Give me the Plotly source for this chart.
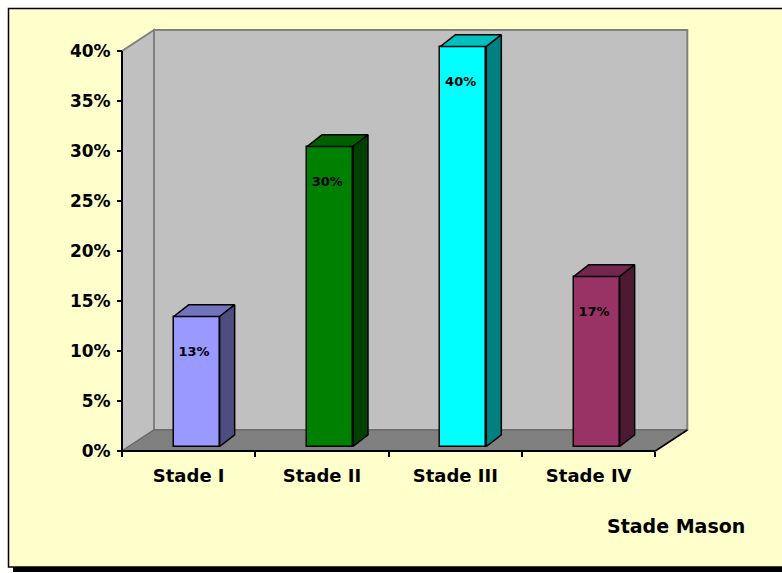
import plotly.graph_objects as go

# ---- data -------------------------------------------------------------
stages = ["Stade I", "Stade II", "Stade III", "Stade IV"]
shares = [13, 30, 40, 17]                      # % of patients per Mason stage
front_colors = ["#9999FF", "#008000", "#00FFFF", "#993366"]
top_colors = ["#7373BF", "#006000", "#00BFBF", "#732650"]
side_colors = ["#4D4D80", "#004000", "#008080", "#4D1A33"]
y_tick_vals = [0, 5, 10, 15, 20, 25, 30, 35, 40]
y_tick_text = [f"{v}%" for v in y_tick_vals]
x_axis_title = "Stade Mason"

# ---- page geometry (pixels) -------------------------------------------
W, H = 782, 573
PL, PR, PT, PB = 116, 692, 26, 456        # plotting area
X0_PX, Y0_PX = 122, 451                    # front-left corner of the floor
CAT_PX = 133.33                            # pixels per category
PCT_PX = 10.0                              # pixels per percent

xmin = -0.5 - (X0_PX - PL) / CAT_PX
xmax = -0.5 + (PR - X0_PX) / CAT_PX
ymin = -(PB - Y0_PX) / PCT_PX
ymax = (Y0_PX - PT) / PCT_PX

Y_TOP = 40                                 # top of the value axis
X_LEFT, X_RIGHT = -0.5, len(stages) - 0.5
DX, DY = 32 / CAT_PX, 21 / PCT_PX          # depth of the chart box
BAR_W, BAR_SHIFT, BAR_BASE = 0.345, 0.06, 0.45
BDX, BDY = 15 / CAT_PX, 1.17               # depth of each column


def paper_x(px):
    return (px - PL) / (PR - PL)


def paper_y(py):
    return (PB - py) / (PB - PT)


fig = go.Figure()

# front faces of the columns
xs = [i + BAR_SHIFT for i in range(len(stages))]
fig.add_trace(go.Bar(
    x=xs, y=shares, base=BAR_BASE, width=BAR_W,
    marker=dict(color=front_colors, line=dict(color="black", width=1.5)),
    hoverinfo="skip", showlegend=False,
))

# top and side faces
for xc, v, tc, sc in zip(xs, shares, top_colors, side_colors):
    xl, xr = xc - BAR_W / 2, xc + BAR_W / 2
    top = BAR_BASE + v
    fig.add_trace(go.Scatter(
        x=[xl, xr, xr + BDX, xl + BDX, xl],
        y=[top, top, top + BDY, top + BDY, top],
        mode="lines", fill="toself", fillcolor=tc,
        line=dict(color="black", width=1.5),
        hoverinfo="skip", showlegend=False,
    ))
    fig.add_trace(go.Scatter(
        x=[xr, xr, xr + BDX, xr + BDX, xr],
        y=[BAR_BASE, top, top + BDY, BAR_BASE + BDY, BAR_BASE],
        mode="lines", fill="toself", fillcolor=sc,
        line=dict(color="black", width=1.5),
        hoverinfo="skip", showlegend=False,
    ))

# value labels inside the columns
fig.add_trace(go.Scatter(
    x=[xc - 0.02 for xc in xs],
    y=[BAR_BASE + v - 3.6 for v in shares],
    text=[f"{v}%" for v in shares],
    mode="text",
    textfont=dict(family="DejaVu Sans", size=13, color="black", weight="bold"),
    hoverinfo="skip", showlegend=False, cliponaxis=False,
))

# front edges of the box (axis lines)
edge = dict(mode="lines", hoverinfo="skip", showlegend=False, cliponaxis=False)
fig.add_trace(go.Scatter(x=[X_LEFT, X_LEFT], y=[0, Y_TOP],
                         line=dict(color="black", width=2), **edge))
fig.add_trace(go.Scatter(x=[X_LEFT, X_RIGHT], y=[0, 0],
                         line=dict(color="black", width=2), **edge))
fig.add_trace(go.Scatter(x=[X_RIGHT, X_RIGHT + DX], y=[0, DY],
                         line=dict(color="black", width=1.5), **edge))

shapes = [
    # chart area background with its frame and shadow
    dict(type="rect", xref="paper", yref="paper", layer="below",
         x0=paper_x(8.5), x1=paper_x(800), y0=paper_y(8.5), y1=paper_y(567),
         fillcolor="#FFFFCC", line=dict(color="black", width=1.5)),
    dict(type="rect", xref="paper", yref="paper", layer="below",
         x0=paper_x(13), x1=paper_x(800), y0=paper_y(567), y1=paper_y(572),
         fillcolor="black", line=dict(width=0)),
    # back wall
    dict(type="rect", xref="x", yref="y", layer="below",
         x0=X_LEFT + DX, x1=X_RIGHT + DX, y0=DY, y1=Y_TOP + DY,
         fillcolor="#C0C0C0", line=dict(color="#808080", width=2)),
    # side wall
    dict(type="path", xref="x", yref="y", layer="below",
         path=(f"M {X_LEFT},0 L {X_LEFT},{Y_TOP} L {X_LEFT + DX},{Y_TOP + DY} "
               f"L {X_LEFT + DX},{DY} Z"),
         fillcolor="#C0C0C0", line=dict(color="#808080", width=2)),
    # floor
    dict(type="path", xref="x", yref="y", layer="below",
         path=(f"M {X_LEFT},0 L {X_RIGHT},0 L {X_RIGHT + DX},{DY} "
               f"L {X_LEFT + DX},{DY} Z"),
         fillcolor="#808080", line=dict(color="#606060", width=1)),
]

y_tick_font = dict(family="DejaVu Sans", size=17, color="black", weight="bold")
x_tick_font = dict(family="DejaVu Sans", size=18, color="black", weight="bold")

fig.update_layout(
    width=W, height=H,
    margin=dict(l=PL, r=W - PR, t=PT, b=H - PB, pad=0),
    paper_bgcolor="white", plot_bgcolor="rgba(0,0,0,0)",
    shapes=shapes,
    bargap=0,
    xaxis=dict(
        range=[xmin, xmax], anchor="free", position=paper_y(Y0_PX),
        tickvals=list(range(len(stages))), ticktext=stages,
        ticks="", showline=False, showgrid=False, zeroline=False,
        tickfont=x_tick_font, ticklabelstandoff=12,
        minor=dict(tickvals=[i - 0.5 for i in range(len(stages) + 1)],
                   ticks="outside", ticklen=5, tickwidth=2, tickcolor="black",
                   showgrid=False),
        fixedrange=True,
    ),
    yaxis=dict(
        range=[ymin, ymax], anchor="free", position=paper_x(X0_PX),
        tickvals=y_tick_vals, ticktext=y_tick_text,
        ticks="outside", ticklen=5, tickwidth=2, tickcolor="black",
        showline=False, showgrid=False, zeroline=False,
        tickfont=y_tick_font, ticklabelstandoff=3,
        fixedrange=True,
    ),
    annotations=[dict(
        text=x_axis_title, xref="paper", yref="paper",
        x=paper_x(676), y=paper_y(526), xanchor="center", yanchor="middle",
        showarrow=False,
        font=dict(family="DejaVu Sans", size=19, color="black", weight="bold"),
    )],
)

fig.write_html("out.html")
